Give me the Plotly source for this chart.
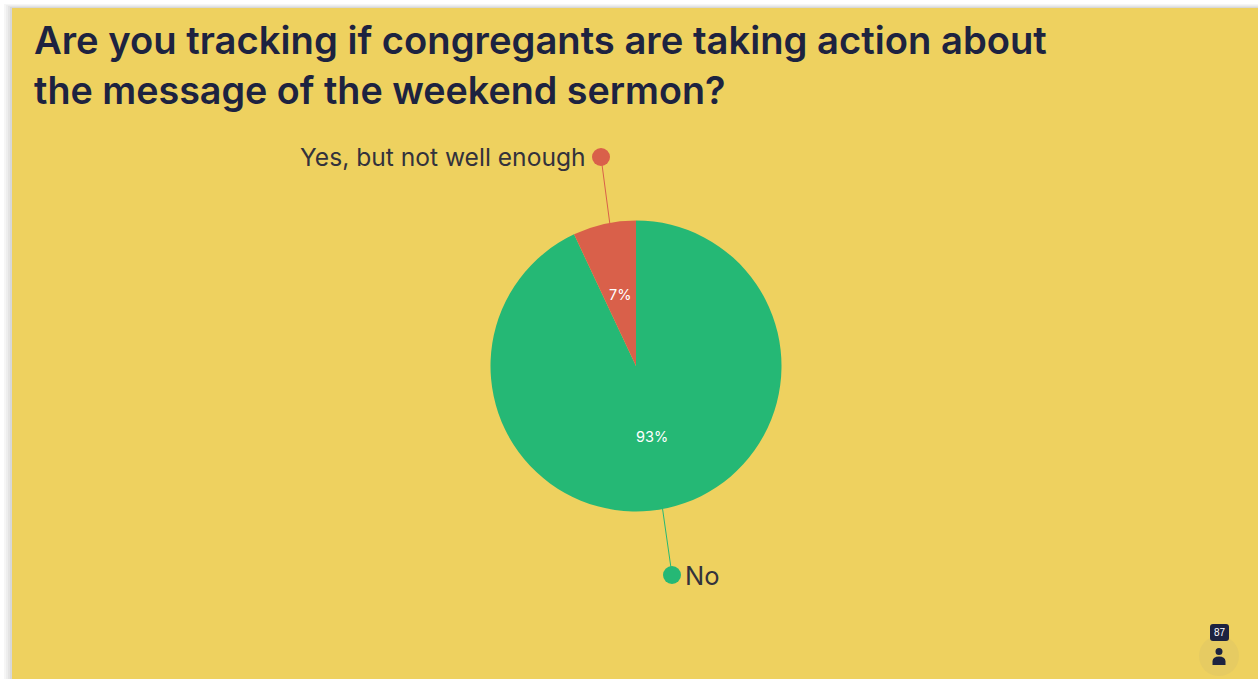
import math
import plotly.graph_objects as go

# Survey results
categories = ["No", "Yes, but not well enough"]
shares = [93, 7]
slice_colors = ["#25B875", "#D9604A"]
title_lines = [
    "Are you tracking if congregants are taking action about",
    "the message of the weekend sermon?",
]
respondents = "87"

W, H = 1258, 679
YELLOW = "#EED15F"
INK = "#1D2340"
LABEL_INK = "#33323C"
FONT = "Inter"

# Pie placement in pixels
CX, CY, R = 636, 366, 145.5

fig = go.Figure()

# Hidden pixel-scale axes carry the leader lines and their end dots
leaders = [
    {"x": [662, 672], "y": [505, 575], "color": slice_colors[0]},
    {"x": [610, 601], "y": [225, 157], "color": slice_colors[1]},
]
for leader in leaders:
    fig.add_trace(go.Scatter(
        x=leader["x"], y=leader["y"], mode="lines+markers",
        line=dict(color=leader["color"], width=1),
        marker=dict(size=[0, 18], color=leader["color"], opacity=1, line=dict(width=0)),
        hoverinfo="skip", showlegend=False,
    ))

fig.add_trace(go.Pie(
    labels=categories, values=shares, sort=False, direction="clockwise", rotation=0,
    marker=dict(colors=slice_colors, line=dict(width=0)),
    textinfo="none", showlegend=False, hoverinfo="label+percent",
    domain=dict(x=[(CX - R) / W, (CX + R) / W], y=[1 - (CY + R) / H, 1 - (CY - R) / H]),
))

# Soft shadow along the left and top edges of the slide
shapes = []
for step, grey in enumerate(["#F6F6F6", "#EEEEEE", "#E4E4E4", "#D8D8D8"]):
    spread = 4 - step
    shapes.append(dict(type="rect", layer="below", x0=12 - spread * 2, x1=W, y0=8 - spread, y1=H,
                       fillcolor=grey, line=dict(width=0)))
shapes.append(dict(type="rect", layer="below", x0=12, x1=W, y0=8, y1=H, fillcolor=YELLOW, line=dict(width=0)))

# Respondent badge in the lower right corner
shapes += [
    dict(type="circle", layer="below", x0=1199, x1=1239, y0=636, y1=676, fillcolor="#E6CB62", line=dict(width=0)),
    dict(type="path", layer="above", fillcolor=INK, line=dict(width=0),
         path="M1213,624 L1226,624 Q1229,624 1229,627 L1229,638 Q1229,641 1226,641 L1213,641 Q1210,641 1210,638 L1210,627 Q1210,624 1213,624 Z"),
    dict(type="circle", layer="above", x0=1215.5, x1=1222.5, y0=648, y1=655, fillcolor=INK, line=dict(width=0)),
    dict(type="path", layer="above", fillcolor=INK, line=dict(width=0),
         path="M1212.5,665 L1212.5,661 Q1213,656.5 1219,656.5 Q1225,656.5 1225.5,661 L1225.5,665 Z"),
]

annotations = []
for text, y, size in zip(title_lines, [40, 89.5], [38.2, 37.7]):
    annotations.append(dict(x=32, y=y, xref="x", yref="y", xanchor="left", yanchor="middle", text=text,
                            showarrow=False, font=dict(family=FONT, size=size, color=INK, weight=600)))

annotations += [
    dict(x=588, y=156.5, xref="x", yref="y", xanchor="right", yanchor="middle", text=categories[1],
         showarrow=False, font=dict(family=FONT, size=24.6, color=LABEL_INK)),
    dict(x=683, y=575, xref="x", yref="y", xanchor="left", yanchor="middle", text=categories[0],
         showarrow=False, font=dict(family=FONT, size=25.5, color=LABEL_INK)),
    dict(x=1219.5, y=632.5, xref="x", yref="y", text=respondents, showarrow=False,
         font=dict(family="Liberation Sans", size=10, color="#FFFFFF")),
]

# Percent labels sit halfway along each slice's middle angle
start = 0.0
total = sum(shares)
for share in shares:
    mid = math.radians((start + share / 2) / total * 360)
    start += share
    annotations.append(dict(x=CX + 0.5 * R * math.sin(mid), y=CY - 0.5 * R * math.cos(mid) - 1,
                            xref="x", yref="y", text=f"{share}%", showarrow=False,
                            font=dict(family=FONT, size=14.5, color="#FFFFFF")))

fig.update_layout(
    width=W, height=H, autosize=False,
    margin=dict(l=0, r=0, t=0, b=0),
    paper_bgcolor="#FFFFFF", plot_bgcolor="rgba(0,0,0,0)",
    xaxis=dict(range=[0, W], visible=False, fixedrange=True),
    yaxis=dict(range=[H, 0], visible=False, fixedrange=True),
    shapes=shapes, annotations=annotations,
)

fig.write_html("out.html")
